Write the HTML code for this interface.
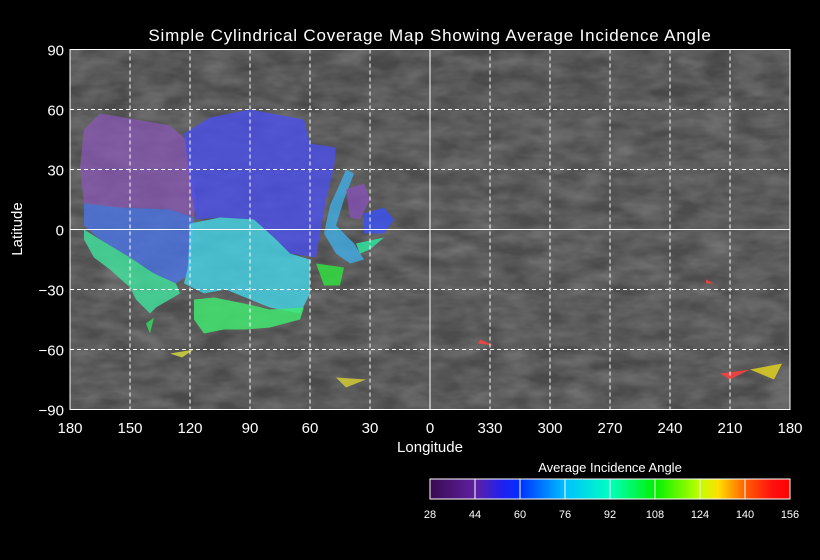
<!DOCTYPE html>
<html><head><meta charset="utf-8"><style>
html,body{margin:0;padding:0;background:#000;}
svg{display:block;font-family:"Liberation Sans","DejaVu Sans",sans-serif;}
</style></head><body>
<svg id="chart" width="820" height="560" xmlns="http://www.w3.org/2000/svg">
<rect width="820" height="560" fill="#000"/>
<text x="430" y="41" fill="#fff" font-size="17" text-anchor="middle" letter-spacing="0.8">Simple Cylindrical Coverage Map Showing Average Incidence Angle</text>
<defs>
<filter id="tex" x="0" y="0" width="100%" height="100%">
<feTurbulence type="fractalNoise" baseFrequency="0.03 0.07" numOctaves="3" seed="4"/>
<feColorMatrix type="matrix" values="0 0 0 0 0.33  0 0 0 0 0.33  0 0 0 0 0.33  0.5 0.5 0 0 -0.3"/>
</filter>
<clipPath id="plotclip"><rect x="70" y="49.5" width="720" height="360"/></clipPath>
<linearGradient id="cbar" x1="0" x2="1" y1="0" y2="0">
<stop offset="0" stop-color="#3a0a50"/><stop offset="0.125" stop-color="#6020a0"/>
<stop offset="0.2" stop-color="#2020f0"/><stop offset="0.25" stop-color="#0030ff"/>
<stop offset="0.375" stop-color="#00c0ff"/><stop offset="0.5" stop-color="#00ffc0"/>
<stop offset="0.625" stop-color="#00f000"/><stop offset="0.75" stop-color="#c0ff00"/>
<stop offset="0.8" stop-color="#ffe000"/><stop offset="0.875" stop-color="#ff6000"/>
<stop offset="0.95" stop-color="#ff1010"/><stop offset="1" stop-color="#ff0000"/>
</linearGradient>
</defs>
<g clip-path="url(#plotclip)">
<rect x="70" y="49.5" width="720" height="360" fill="#4c4c4c"/>
<rect x="70" y="49.5" width="720" height="60" fill="#484848"/>
<rect x="70" y="360" width="720" height="50" fill="#4a4a4a"/>
<rect x="70" y="49.5" width="720" height="360" filter="url(#tex)"/>
</g>
<g id="regions" clip-path="url(#plotclip)"></g>
<g id="grid"></g>
<rect x="70" y="49.5" width="720" height="360" fill="none" stroke="#fff" stroke-width="1"/>
<g id="axes"></g>
<text x="430" y="452" fill="#fff" font-size="15" text-anchor="middle">Longitude</text>
<text transform="translate(22,229) rotate(-90)" fill="#fff" font-size="15" text-anchor="middle">Latitude</text>
<text x="610" y="472" fill="#fff" font-size="13" text-anchor="middle">Average Incidence Angle</text>
<rect x="430" y="479" width="360" height="20" fill="url(#cbar)" stroke="#fff" stroke-width="1"/>
<g id="cbticks"></g>
</svg>
<script>
const lonTicks=["180","150","120","90","60","30","0","330","300","270","240","210","180"];
const latTicks=[90,60,30,0,-30,-60,-90];
const cbTicks=[28,44,60,76,92,108,124,140,156];
const purpleA=[[7,50],[15,58],[33,55],[50,52],[58,45],[60,31],[63,16],[62,6],[50,10],[25,11],[7,13],[5,31]];
const blueA=[[57,48],[70,56],[90,60],[117,55],[120,43],[133,41],[132,31],[128,15],[125,-2],[123,-14],[110,-12],[103,-5],[92,5],[75,6],[63,5],[60,23],[58,40]];
const blueB=[[7,13],[25,11],[50,10],[62,6],[60,-22],[53,-27],[42,-22],[30,-14],[15,-5],[7,2]];
const cyanA=[[60,3],[75,6],[92,5],[103,-5],[110,-12],[120,-15],[120,-32],[115,-42],[100,-39],[90,-35],[78,-30],[67,-32],[57,-27],[59,-19]];
const tealA=[[7,0],[15,-5],[30,-14],[42,-22],[53,-27],[55,-32],[43,-39],[40,-42],[33,-35],[30,-29],[20,-20],[12,-14],[7,-5]];
const greenA=[[62,-35],[72,-34],[87,-37],[100,-40],[117,-39],[115,-45],[100,-49],[88,-50],[77,-50],[67,-52],[62,-45]];
const lightBlueA=[[138,30],[142,28],[137,15],[133,2],[142,-7],[147,-15],[140,-17],[133,-12],[127,-2],[130,12],[135,23]];
const purpleB=[[138,20],[147,23],[150,15],[145,5],[140,6]];
const blueC=[[147,8],[157,11],[162,5],[157,-2],[147,-2]];
const greenB=[[123,-17],[137,-19],[135,-28],[127,-28]];
const tealB=[[143,-7],[157,-4],[150,-10],[145,-12]];
const greenC=[[38,-47],[42,-44],[40,-52]];
const yellowA=[[50,-62],[62,-60],[56,-64]];
const yellowB=[[133,-74],[148,-75],[138,-79]];
const redA=[[205,-55],[212,-58],[204,-57]];
const redB=[[325,-72],[340,-70],[330,-75]];
const yellowC=[[340,-70],[356,-67],[352,-75]];
const redC=[[318,-25],[322,-27],[318,-27]];
const regions=[
 [purpleA,"#8a58b8",0.72],[blueA,"#4a50f0",0.78],[blueB,"#4a74e8",0.78],[cyanA,"#44d8ec",0.78],
 [tealA,"#40e8a0",0.78],[greenA,"#40ec70",0.82],[lightBlueA,"#40b0e8",0.78],[purpleB,"#8a50c0",0.72],
 [blueC,"#3a50f0",0.82],[greenB,"#30e040",0.82],[tealB,"#30e8a0",0.82],[greenC,"#30e060",0.8],
 [yellowA,"#d8e040",0.8],[yellowB,"#d8d030",0.8],[redA,"#ff4040",0.85],[redB,"#ff4040",0.85],
 [yellowC,"#e0d020",0.85],[redC,"#ff4040",0.85]];
const NS="http://www.w3.org/2000/svg";
const X0=70,W=720,Y0=49.5,H=360;
function xU(u){return X0+u/360*W;}
function yLat(l){return Y0+(90-l)/180*H;}
function xCb(v){return 430+(v-28)/(156-28)*360;}
function mk(t,a,p){const e=document.createElementNS(NS,t);for(const k in a)e.setAttribute(k,a[k]);p.appendChild(e);return e;}
const rg=document.getElementById('regions');
regions.forEach((r,i)=>{
 const e=mk('polygon',{points:r[0].map(p=>xU(p[0])+','+yLat(p[1])).join(' '),fill:r[1],'fill-opacity':r[2]},rg);
 
 
});
const g=document.getElementById('grid');
lonTicks.forEach((t,i)=>{
 const x=xU(i*30);
 if(i>0&&i<lonTicks.length-1){
  const l=mk('line',{x1:x,x2:x,y1:Y0,y2:Y0+H,stroke:'#fff','stroke-width':1,'stroke-dasharray':t==="0"?'none':'4 3'},g);
  
  
 }
});
latTicks.forEach(v=>{
 if(v===90||v===-90)return;
 const y=yLat(v);
 const l=mk('line',{x1:X0,x2:X0+W,y1:y,y2:y,stroke:'#fff','stroke-width':1,'stroke-dasharray':v===0?'none':'4 3'},g);
 
 
});
const ax=document.getElementById('axes');
lonTicks.forEach((t,i)=>{
 const e=mk('text',{x:xU(i*30),y:433,fill:'#fff','font-size':15,'text-anchor':'middle'},ax);
 e.textContent=t;
 
 
});
latTicks.forEach(v=>{
 const e=mk('text',{x:64,y:yLat(v)+6,fill:'#fff','font-size':15,'text-anchor':'end'},ax);
 e.textContent=v===-90?'\u221290':(v<0?'\u2212'+(-v):String(v));
 
 
});
const cb=document.getElementById('cbticks');
cbTicks.forEach((v,i)=>{
 const x=xCb(v);
 if(i>0&&i<cbTicks.length-1){
  const l=mk('line',{x1:x,x2:x,y1:479,y2:499,stroke:'#fff','stroke-width':1},cb);
  
  
 }
 const e=mk('text',{x:x,y:518,fill:'#fff','font-size':11,'text-anchor':'middle'},cb);
 e.textContent=v;
 
 
});
</script>
</body></html>
